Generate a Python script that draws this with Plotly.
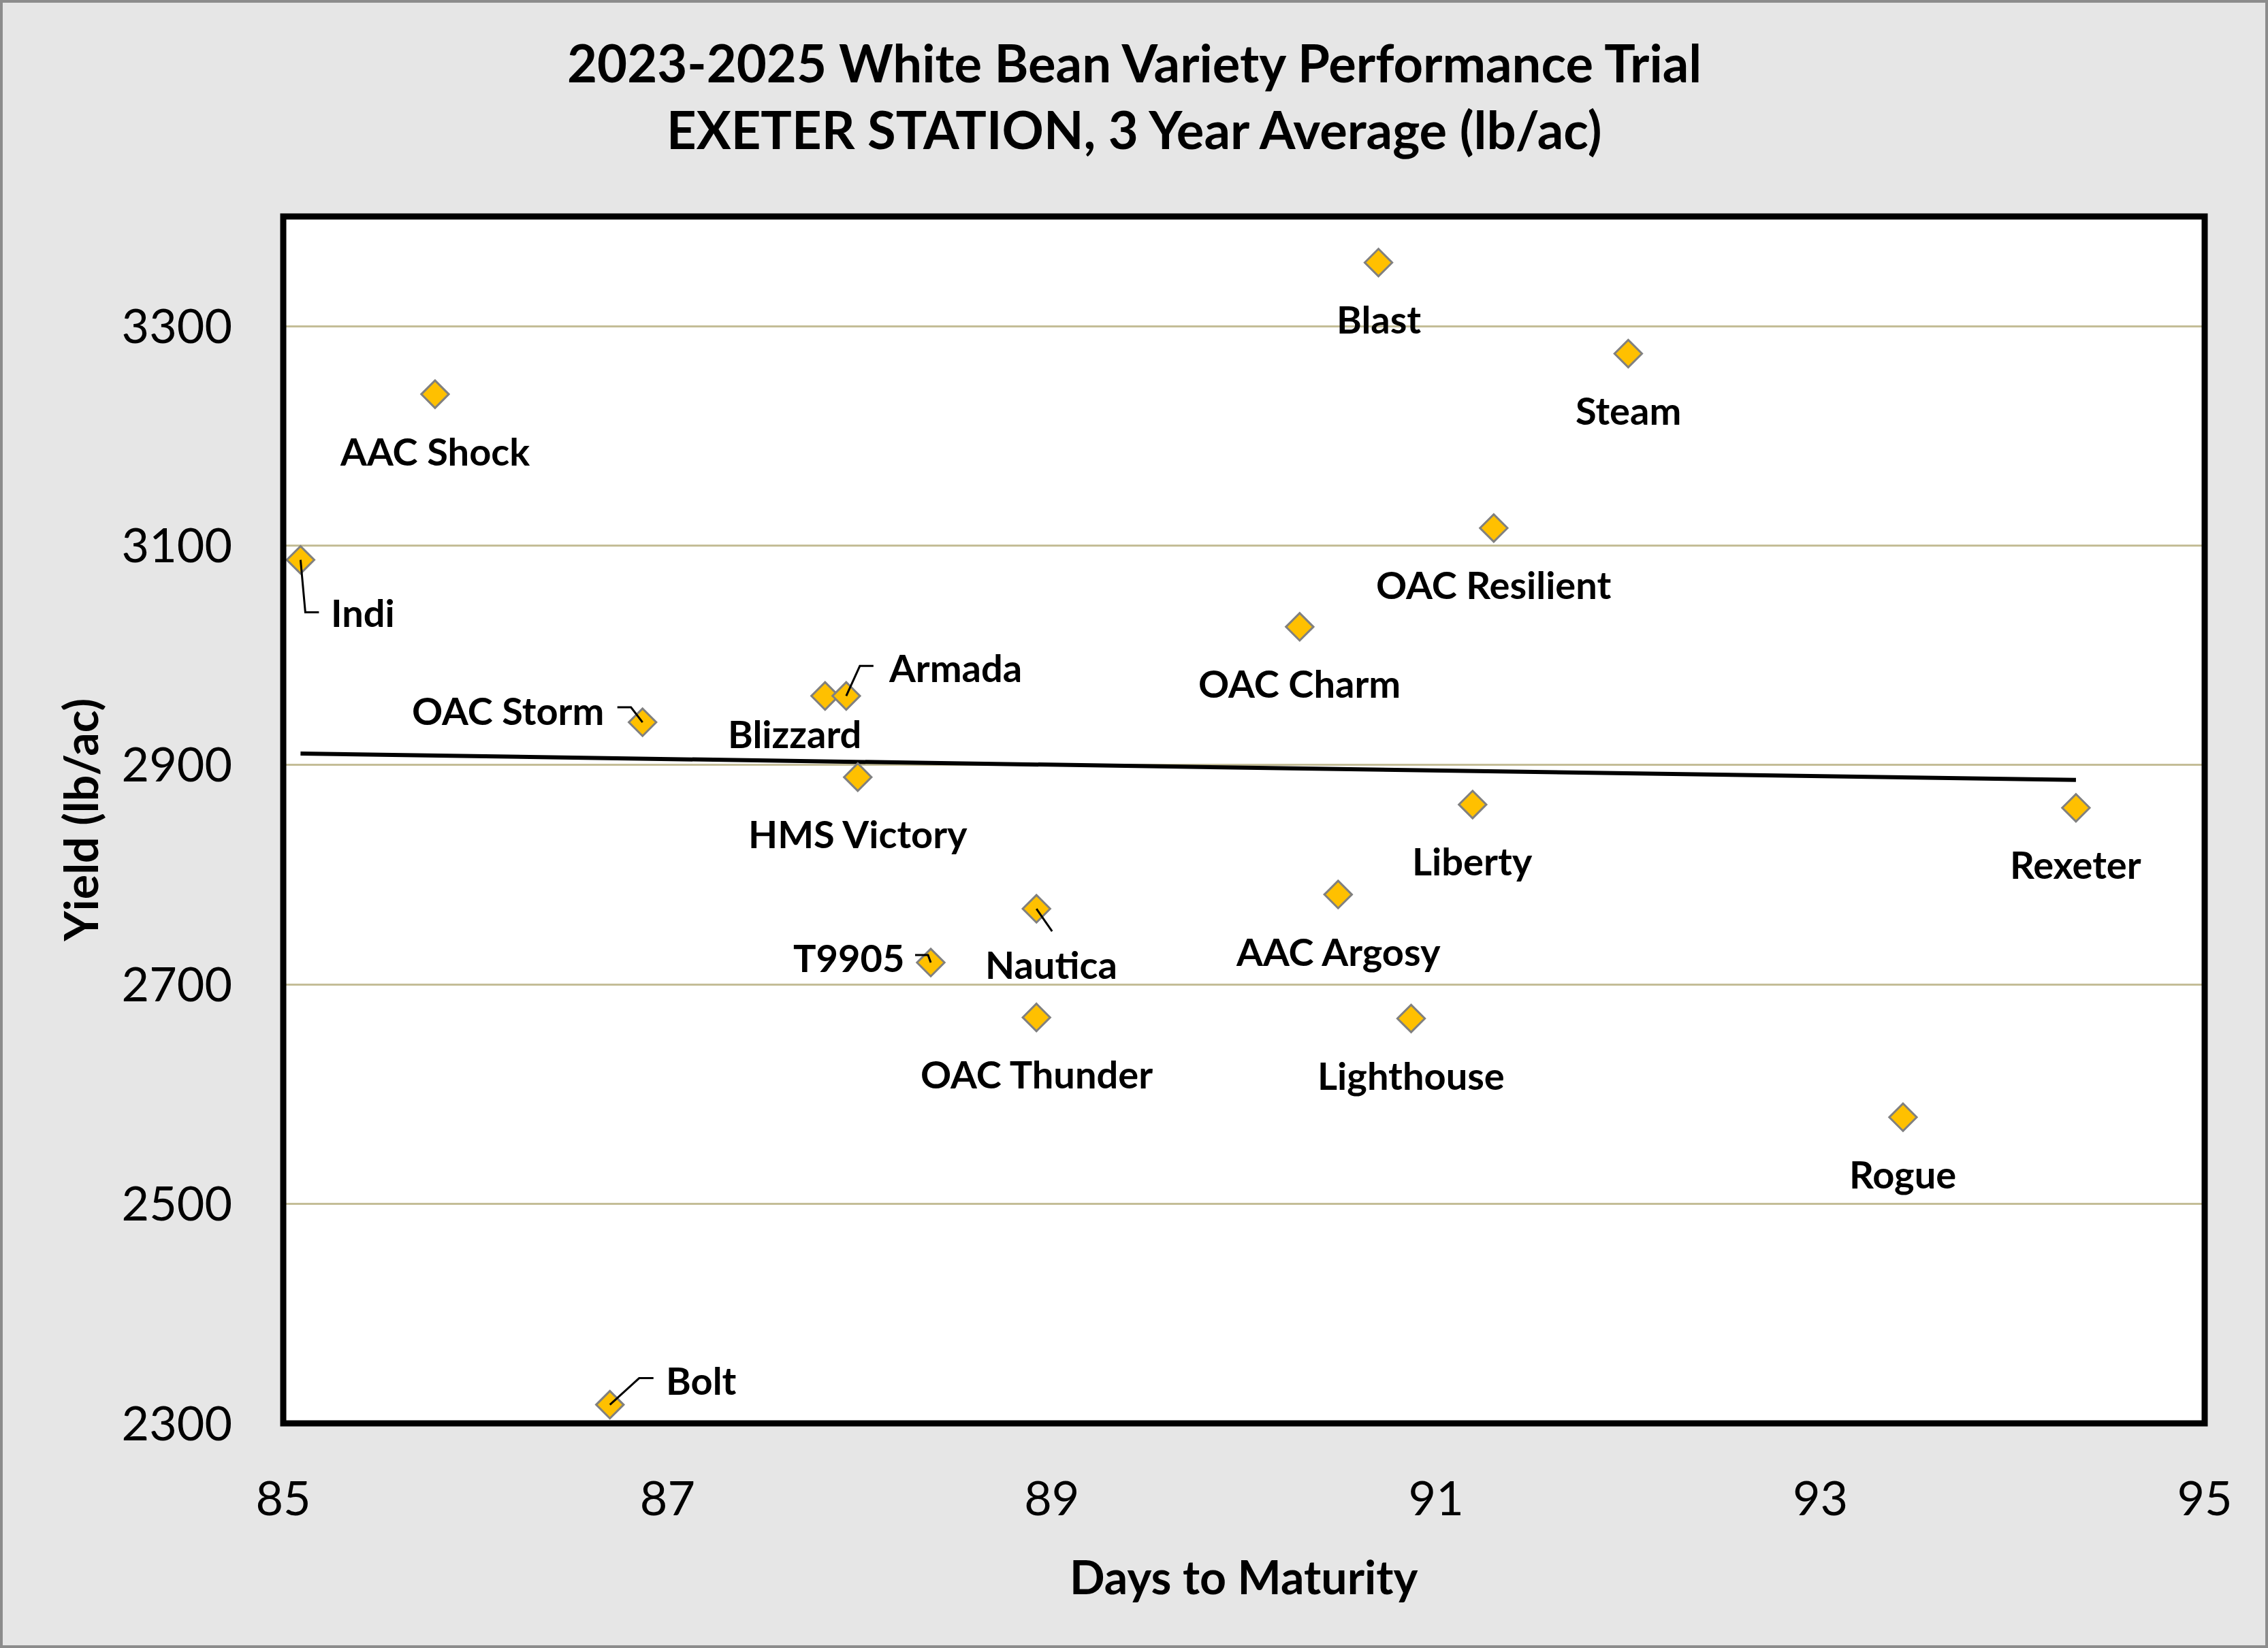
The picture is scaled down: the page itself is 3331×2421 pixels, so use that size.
import numpy as np
import plotly.graph_objects as go

# ---------------- data ----------------
varieties = ["Indi", "AAC Shock", "OAC Storm", "Blizzard", "Armada", "HMS Victory",
             "T9905", "Nautica", "OAC Thunder", "Bolt", "Blast", "Steam",
             "OAC Resilient", "OAC Charm", "Liberty", "AAC Argosy", "Lighthouse",
             "Rexeter", "Rogue"]
days_to_maturity = [85.09, 85.79, 86.87, 87.82, 87.93, 87.99, 88.37, 88.92, 88.92, 86.70,
                    90.70, 92.00, 91.30, 90.29, 91.19, 90.49, 90.87, 94.33, 93.43]
yield_lbac = [3087, 3238, 2939, 2963, 2963, 2889, 2720, 2769, 2670, 2317,
              3358, 3275, 3116, 3026, 2864, 2782, 2669, 2861, 2579]
x_tick_vals = [85, 87, 89, 91, 93, 95]
y_tick_vals = [2300, 2500, 2700, 2900, 3100, 3300]

title_lines = ["2023-2025 White Bean Variety Performance Trial",
               "EXETER STATION, 3 Year Average (lb/ac)"]
x_title = "Days to Maturity"
y_title = "Yield (lb/ac)"

# ---------------- label placement (pixel offsets, screen-down positive) ----------------
default_place = (0, 83)
label_place = {
    "Indi": (92, 77),
    "OAC Storm": (-198, -18),
    "Blizzard": (-45, 55),
    "Armada": (160, -42),
    "T9905": (-120, -8),
    "Nautica": (22, 81),
    "Bolt": (134, -36),
}
# leader lines: pixel vertices (screen-down positive) after the point itself
leader_paths = {
    "Indi": [(7, 77), (27, 77)],
    "OAC Storm": [(-17, -22), (-37, -22)],
    "Armada": [(20, -44), (40, -44)],
    "T9905": [(-4, -11), (-23, -11)],
    "Nautica": [(23, 33)],
    "Bolt": [(43, -39), (64, -39)],
}

# ---------------- layout geometry ----------------
W, H = 3331, 2421
ML, MR, MT, MB = 416, 93, 318, 330
PW, PH = W - ML - MR, H - MT - MB
FONT = "Lato, 'Open Sans', sans-serif"

fig = go.Figure()

# trendline (linear regression of the data)
slope, intercept = np.polyfit(days_to_maturity, yield_lbac, 1)
tx = np.array([min(days_to_maturity), max(days_to_maturity)])
fig.add_trace(go.Scatter(x=tx, y=slope * tx + intercept, mode="lines",
                         line=dict(color="black", width=6), hoverinfo="skip",
                         showlegend=False))

fig.add_trace(go.Scatter(
    x=days_to_maturity, y=yield_lbac, mode="markers", text=varieties,
    marker=dict(symbol="diamond", size=31, color="#FFC000",
                line=dict(color="#808080", width=3)),
    showlegend=False))

annotations = []
shapes = []
for name, x, y in zip(varieties, days_to_maturity, yield_lbac):
    dx, dy = label_place.get(name, default_place)
    annotations.append(dict(x=x, y=y, xref="x", yref="y", text=name,
                            showarrow=False, xshift=dx, yshift=-dy,
                            font=dict(family=FONT, size=56, color="black",
                                      weight="bold")))
    if name in leader_paths:
        pts = [(0, 0)] + leader_paths[name]
        path = "M " + " L ".join(f"{px},{-py}" for px, py in pts)
        shapes.append(dict(type="path", xref="x", yref="y",
                           xsizemode="pixel", ysizemode="pixel",
                           xanchor=x, yanchor=y, path=path,
                           line=dict(color="black", width=3), layer="above"))

# title (centred on the whole chart)
for line, ypix in zip(title_lines, [91, 189]):
    annotations.append(dict(x=(W / 2 - ML) / PW, y=1 + (MT - ypix) / PH,
                            xref="paper", yref="paper",
                            xanchor="center", yanchor="middle", showarrow=False,
                            text=line,
                            font=dict(family=FONT, size=76, color="black",
                                      weight="bold")))
# axis titles
annotations.append(dict(x=0.5, y=-(2315 - (H - MB)) / PH, xref="paper", yref="paper",
                        xanchor="center", yanchor="middle", showarrow=False,
                        text=x_title,
                        font=dict(family=FONT, size=68, color="black", weight="bold")))
annotations.append(dict(x=(117 - ML) / PW, y=0.5, xref="paper", yref="paper",
                        xanchor="center", yanchor="middle", showarrow=False,
                        text=y_title, textangle=-90,
                        font=dict(family=FONT, size=68, color="black", weight="bold")))

shapes += [
    # plot area border
    dict(type="rect", xref="paper", yref="paper", x0=0, x1=1, y0=0, y1=1,
         line=dict(color="black", width=9), layer="above"),
    # outer chart border
    dict(type="rect", xref="paper", yref="paper",
         x0=-(ML - 2) / PW, x1=1 + (MR - 2) / PW,
         y0=-(MB - 2) / PH, y1=1 + (MT - 2) / PH,
         line=dict(color="#8C8C8C", width=4), layer="below"),
]

fig.update_layout(
    width=W, height=H,
    margin=dict(l=ML, r=MR, t=MT, b=MB, autoexpand=False),
    paper_bgcolor="#E6E6E6", plot_bgcolor="white",
    annotations=annotations, shapes=shapes,
    showlegend=False,
    font=dict(family=FONT, color="black"),
)
fig.update_xaxes(range=[85, 95], tickvals=x_tick_vals, showgrid=False, zeroline=False,
                 ticks="outside", ticklen=50, tickcolor="rgba(0,0,0,0)",
                 tickfont=dict(family=FONT, size=70, color="black"), showline=False)
fig.update_yaxes(range=[2300, 3400], tickvals=y_tick_vals, showgrid=True,
                 gridcolor="#C4BD97", gridwidth=3, zeroline=False,
                 ticks="outside", ticklen=60, tickcolor="rgba(0,0,0,0)",
                 tickfont=dict(family=FONT, size=70, color="black"), showline=False)

fig.write_html("out.html",
               config={"displayModeBar": False},
               post_script="document.body.style.margin='0';"
                           "document.body.style.overflow='hidden';")
